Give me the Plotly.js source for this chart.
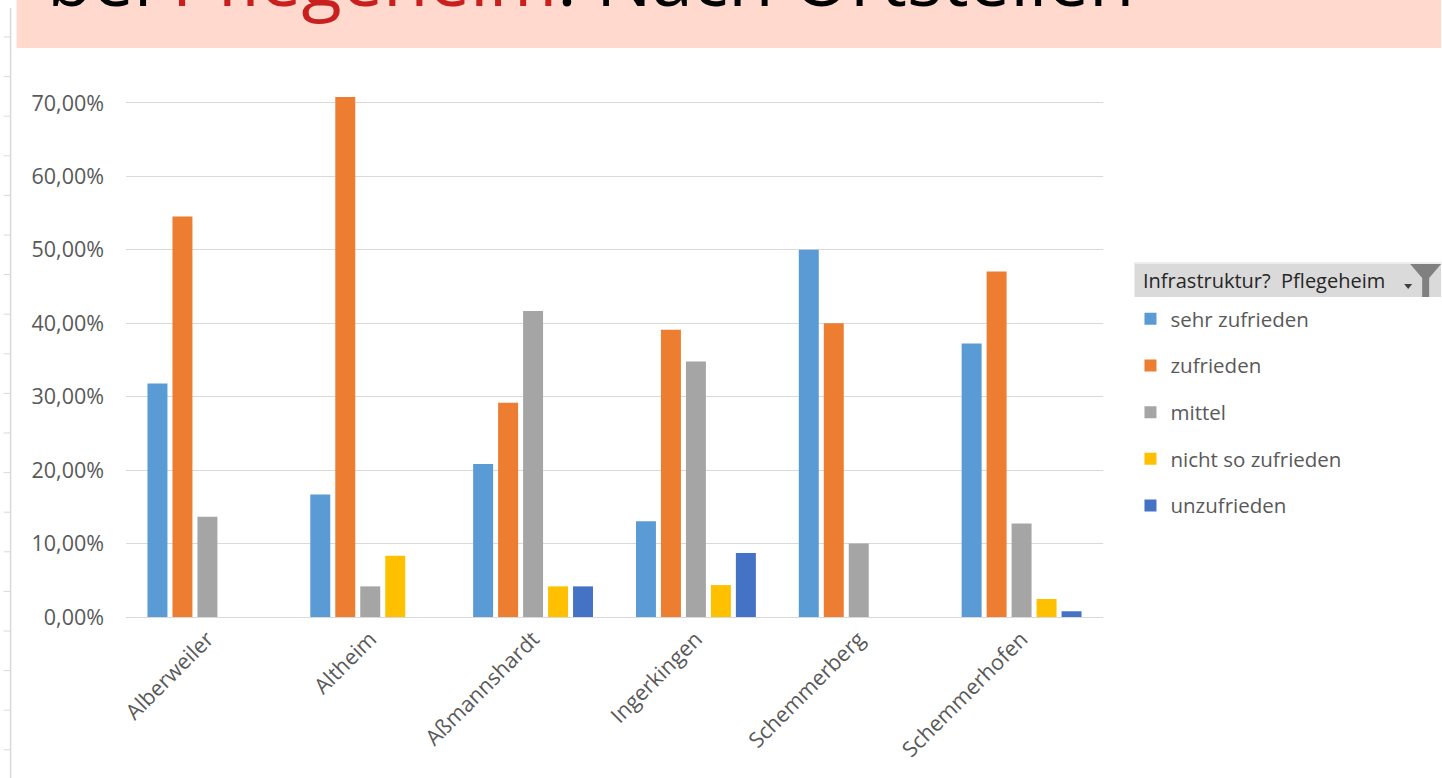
<!DOCTYPE html>
<html>
<head>
<meta charset="utf-8">
<script src="https://cdn.plot.ly/plotly-3.0.1.min.js"></script>
<style>html,body{margin:0;padding:0;background:#fff;overflow:hidden}#chart{width:1442px;height:778px}</style>
</head>
<body>
<div id="chart"></div>
<script>
// ---- data ----
const ortsteile = ["Alberweiler", "Altheim", "Aßmannshardt", "Ingerkingen", "Schemmerberg", "Schemmerhofen"];
const sehrZufrieden = [0.318, 0.1667, 0.2083, 0.1304, 0.50, 0.3725];
const zufrieden = [0.5454, 0.7083, 0.2917, 0.3913, 0.40, 0.4706];
const mittel = [0.1364, 0.0417, 0.4167, 0.3478, 0.10, 0.1275];
const nichtSoZufrieden = [null, 0.0833, 0.0417, 0.0435, null, 0.0245];
const unzufrieden = [null, null, 0.0417, 0.087, null, 0.0078];
const seriesNames = ["sehr zufrieden", "zufrieden", "mittel", "nicht so zufrieden", "unzufrieden"];
const yTicks = [0, 0.1, 0.2, 0.3, 0.4, 0.5, 0.6, 0.7];
const filterLabel = "Infrastruktur?  Pflegeheim";

// ---- layout geometry ----
const W = 1442, H = 778;
const ml = 125.5, mr = W - 1103.5, mt = 48, mb = H - 617;
const pw = W - ml - mr, ph = H - mt - mb;
const px = x => (x - ml) / pw;
const py = y => (H - mb - y) / ph;

const colors = ["#5B9BD5", "#ED7D31", "#A5A5A5", "#FFC000", "#4472C4"];
const values = [sehrZufrieden, zufrieden, mittel, nichtSoZufrieden, unzufrieden];

const traces = values.map((v, i) => ({
  type: "bar",
  name: seriesNames[i],
  x: ortsteile,
  y: v,
  marker: {color: colors[i]},
  legendgroup: "g" + i,
  hoverinfo: "x+y+name"
}));

const shapes = [];
// pink title band
shapes.push({type: "rect", xref: "paper", yref: "paper", x0: px(16), x1: px(1442), y0: py(48), y1: py(-2),
  fillcolor: "#FFD9CE", line: {width: 0}, layer: "below"});
// left ruler
shapes.push({type: "line", xref: "paper", yref: "paper", x0: px(10), x1: px(10), y0: py(8), y1: py(778),
  line: {color: "#D9D9D9", width: 1.5}});
for (let t = 37; t < 778; t += 39.6) {
  shapes.push({type: "line", xref: "paper", yref: "paper", x0: px(3), x1: px(10), y0: py(t), y1: py(t),
    line: {color: "#D9D9D9", width: 1}});
}
// filter header box
shapes.push({type: "rect", xref: "paper", yref: "paper", x0: px(1135), x1: px(1442), y0: py(297), y1: py(262),
  fillcolor: "#DADADA", line: {width: 0}});
shapes.push({type: "line", xref: "paper", yref: "paper", x0: px(1135), x1: px(1442), y0: py(263), y1: py(263),
  line: {color: "#ECECEC", width: 2}});
// funnel icon
const fx = v => px(v).toFixed(5), fy = v => py(v).toFixed(5);
shapes.push({type: "path", xref: "paper", yref: "paper",
  path: `M${fx(1411)},${fy(264)} L${fx(1442)},${fy(264)} L${fx(1430)},${fy(278)} L${fx(1430)},${fy(297)} L${fx(1423)},${fy(297)} L${fx(1423)},${fy(278)} Z`,
  fillcolor: "#808080", line: {width: 0}});
// dropdown triangle
shapes.push({type: "path", xref: "paper", yref: "paper",
  path: `M${fx(1405)},${fy(284)} L${fx(1413)},${fy(284)} L${fx(1409)},${fy(289)} Z`,
  fillcolor: "#404040", line: {width: 0}});

const annotations = [
  {xref: "paper", yref: "paper", x: px(44), y: py(30), xanchor: "left", yanchor: "bottom",
   text: "bei <span style='color:#C8201E'>Pflegeheim</span>: Nach Ortsteilen", showarrow: false,
   font: {family: "Open Sans, sans-serif", size: 74, color: "#000000"}},
  {xref: "paper", yref: "paper", x: px(1142), y: py(280), xanchor: "left", yanchor: "middle",
   text: filterLabel, showarrow: false,
   font: {family: "Open Sans, sans-serif", size: 20, color: "#262626"}}
];

const layout = {
  width: W, height: H,
  margin: {l: ml, r: mr, t: mt, b: mb, pad: 0},
  paper_bgcolor: "#FFFFFF", plot_bgcolor: "#FFFFFF",
  separators: ",.",
  barmode: "group", bargap: 0.233, bargroupgap: 0.2,
  font: {family: "Open Sans, sans-serif", color: "#595959", size: 20},
  xaxis: {type: "category", showgrid: false, showline: true, linecolor: "#D9D9D9", linewidth: 1,
    ticks: "", tickangle: -45, tickfont: {size: 21.5, color: "#595959"}, zeroline: false, fixedrange: true},
  yaxis: {range: [0, (H - mb - mt) / 734.3], tickvals: yTicks, tickformat: ".2%",
    showgrid: true, gridcolor: "#D9D9D9", gridwidth: 1, zeroline: false, showline: false,
    ticks: "", ticklabelstandoff: 21, tickfont: {size: 21.5, color: "#595959"}, fixedrange: true},
  showlegend: true,
  legend: {x: px(1131), y: py(299), xanchor: "left", yanchor: "top", traceorder: "grouped",
    tracegroupgap: 17, font: {size: 20.5, color: "#595959"}, bgcolor: "rgba(0,0,0,0)", itemwidth: 30},
  shapes: shapes,
  annotations: annotations
};

Plotly.newPlot("chart", traces, layout, {displayModeBar: false, staticPlot: true});
</script>
</body>
</html>
